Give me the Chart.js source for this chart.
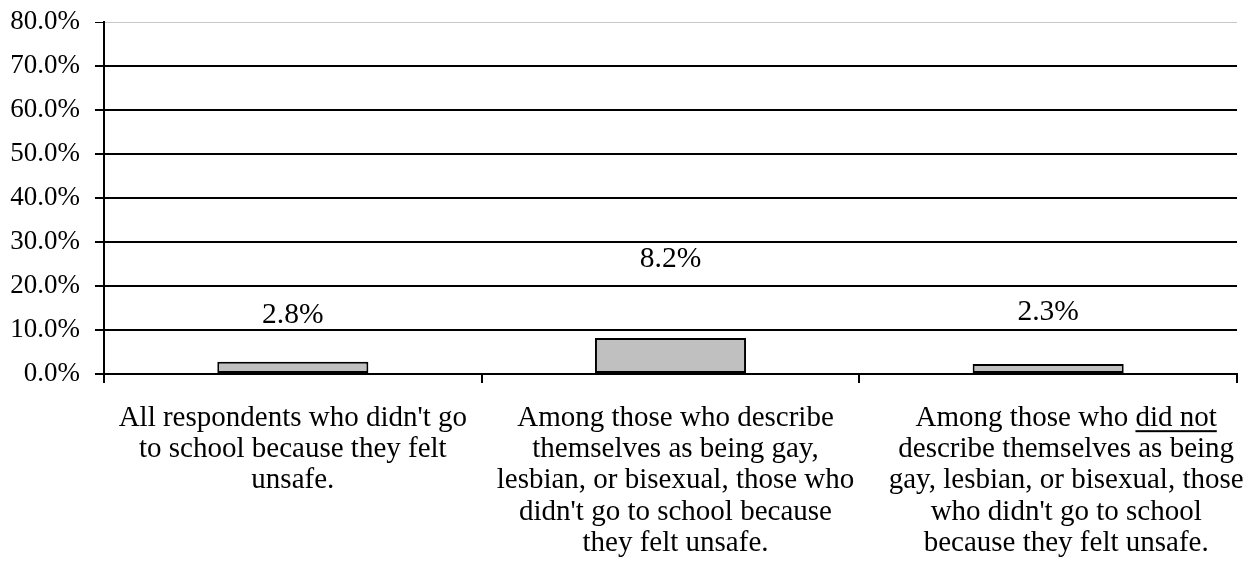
<!DOCTYPE html>
<html lang="en">
<head>
<meta charset="UTF-8">
<title>Didn't go to school because they felt unsafe</title>
<script src="https://cdn.jsdelivr.net/npm/chart.js"></script>
<style>
    html, body { margin: 0; padding: 0; background: #fff; }
    #wrap { width: 1258px; height: 579px; }
</style>
</head>
<body>
<div id="wrap"><canvas id="chart" width="1258" height="579"></canvas></div>
<script>
// data
var categoryLines = [
    ["All respondents who didn't go", "to school because they felt", "unsafe."],
    ["Among those who describe", "themselves as being gay,", "lesbian, or bisexual, those who", "didn't go to school because", "they felt unsafe."],
    ["Among those who did not", "describe themselves as being", "gay, lesbian, or bisexual, those", "who didn't go to school", "because they felt unsafe."]
];
var values = [2.8, 8.2, 2.3];
var yMin = 0, yMax = 80, yStep = 10;
// words that are underlined in the category labels: [category, line, text]
var underlined = [[2, 0, "did not"]];

var FONT = '"Liberation Serif", "Times New Roman", serif';

function pct(v) { return v.toFixed(1) + '%'; }

// draws the category labels (with underline) and the value labels
var labelPlugin = {
    id: 'labels',
    afterDraw: function (chart, args, opts) {
        var ctx = chart.ctx;
        var xs = chart.scales.x;
        ctx.save();
        ctx.font = opts.size + 'px ' + FONT;
        ctx.fillStyle = '#000';
        ctx.textAlign = 'center';
        ctx.textBaseline = 'middle';

        categoryLines.forEach(function (lines, i) {
            var cx = xs.getPixelForValue(i) + opts.shift[i];
            lines.forEach(function (line, j) {
                var y = chart.chartArea.bottom + opts.top + j * opts.lineHeight;
                ctx.fillText(line, cx, y);
                underlined.forEach(function (u) {
                    if (u[0] !== i || u[1] !== j) return;
                    var k = line.indexOf(u[2]);
                    var left = cx - ctx.measureText(line).width / 2 + ctx.measureText(line.slice(0, k)).width;
                    var w = ctx.measureText(u[2]).width;
                    ctx.fillRect(left, y + opts.size * 0.42, w, 2);
                });
            });
        });

        ctx.font = opts.valueSize + 'px ' + FONT;
        var meta = chart.getDatasetMeta(0);
        meta.data.forEach(function (bar, i) {
            ctx.fillText(pct(values[i]), bar.x, bar.y - opts.valueOffsets[i]);
        });
        ctx.restore();
    }
};

Chart.defaults.color = '#000';
Chart.defaults.font.family = FONT;

new Chart(document.getElementById('chart').getContext('2d'), {
    type: 'bar',
    data: {
        labels: categoryLines.map(function (l) { return l.join(' '); }),
        datasets: [{
            data: values,
            backgroundColor: '#c0c0c0',
            borderColor: '#000',
            borderWidth: 2,
            borderSkipped: false,
            barPercentage: 0.4,
            categoryPercentage: 1.0
        }]
    },
    options: {
        responsive: false,
        animation: false,
        layout: { padding: { top: 22, right: 21, bottom: 0, left: 0 } },
        plugins: {
            legend: { display: false },
            tooltip: { enabled: false },
            labels: {
                size: 29,
                valueSize: 29.5,
                top: 44,
                lineHeight: 31.3,
                shift: [0, 5, 18],
                valueOffsets: [46, 79, 52]
            }
        },
        scales: {
            x: {
                ticks: { callback: function () { return ''; } },
                grid: {
                    offset: true,
                    drawOnChartArea: false,
                    drawTicks: true,
                    tickLength: 9,
                    color: '#000',
                    lineWidth: 2
                },
                border: { display: true, color: '#000', width: 2 },
                afterFit: function (s) { s.height = 579 - 374; }
            },
            y: {
                min: yMin,
                max: yMax,
                ticks: {
                    stepSize: yStep,
                    padding: 15,
                    font: { size: 27, family: FONT },
                    color: '#000',
                    callback: function (v) { return pct(v); }
                },
                grid: {
                    color: function (c) { return c.tick && c.tick.value === yMax ? '#c8c8c8' : '#000'; },
                    lineWidth: function (c) { return c.tick && c.tick.value === yMax ? 1 : 2; },
                    tickColor: '#000',
                    tickLength: 9
                },
                border: { display: true, color: '#000', width: 2 },
                afterFit: function (s) { s.width = 104; s.paddingTop = 0; s.paddingBottom = 0; }
            }
        }
    },
    plugins: [labelPlugin]
});
</script>
</body>
</html>
